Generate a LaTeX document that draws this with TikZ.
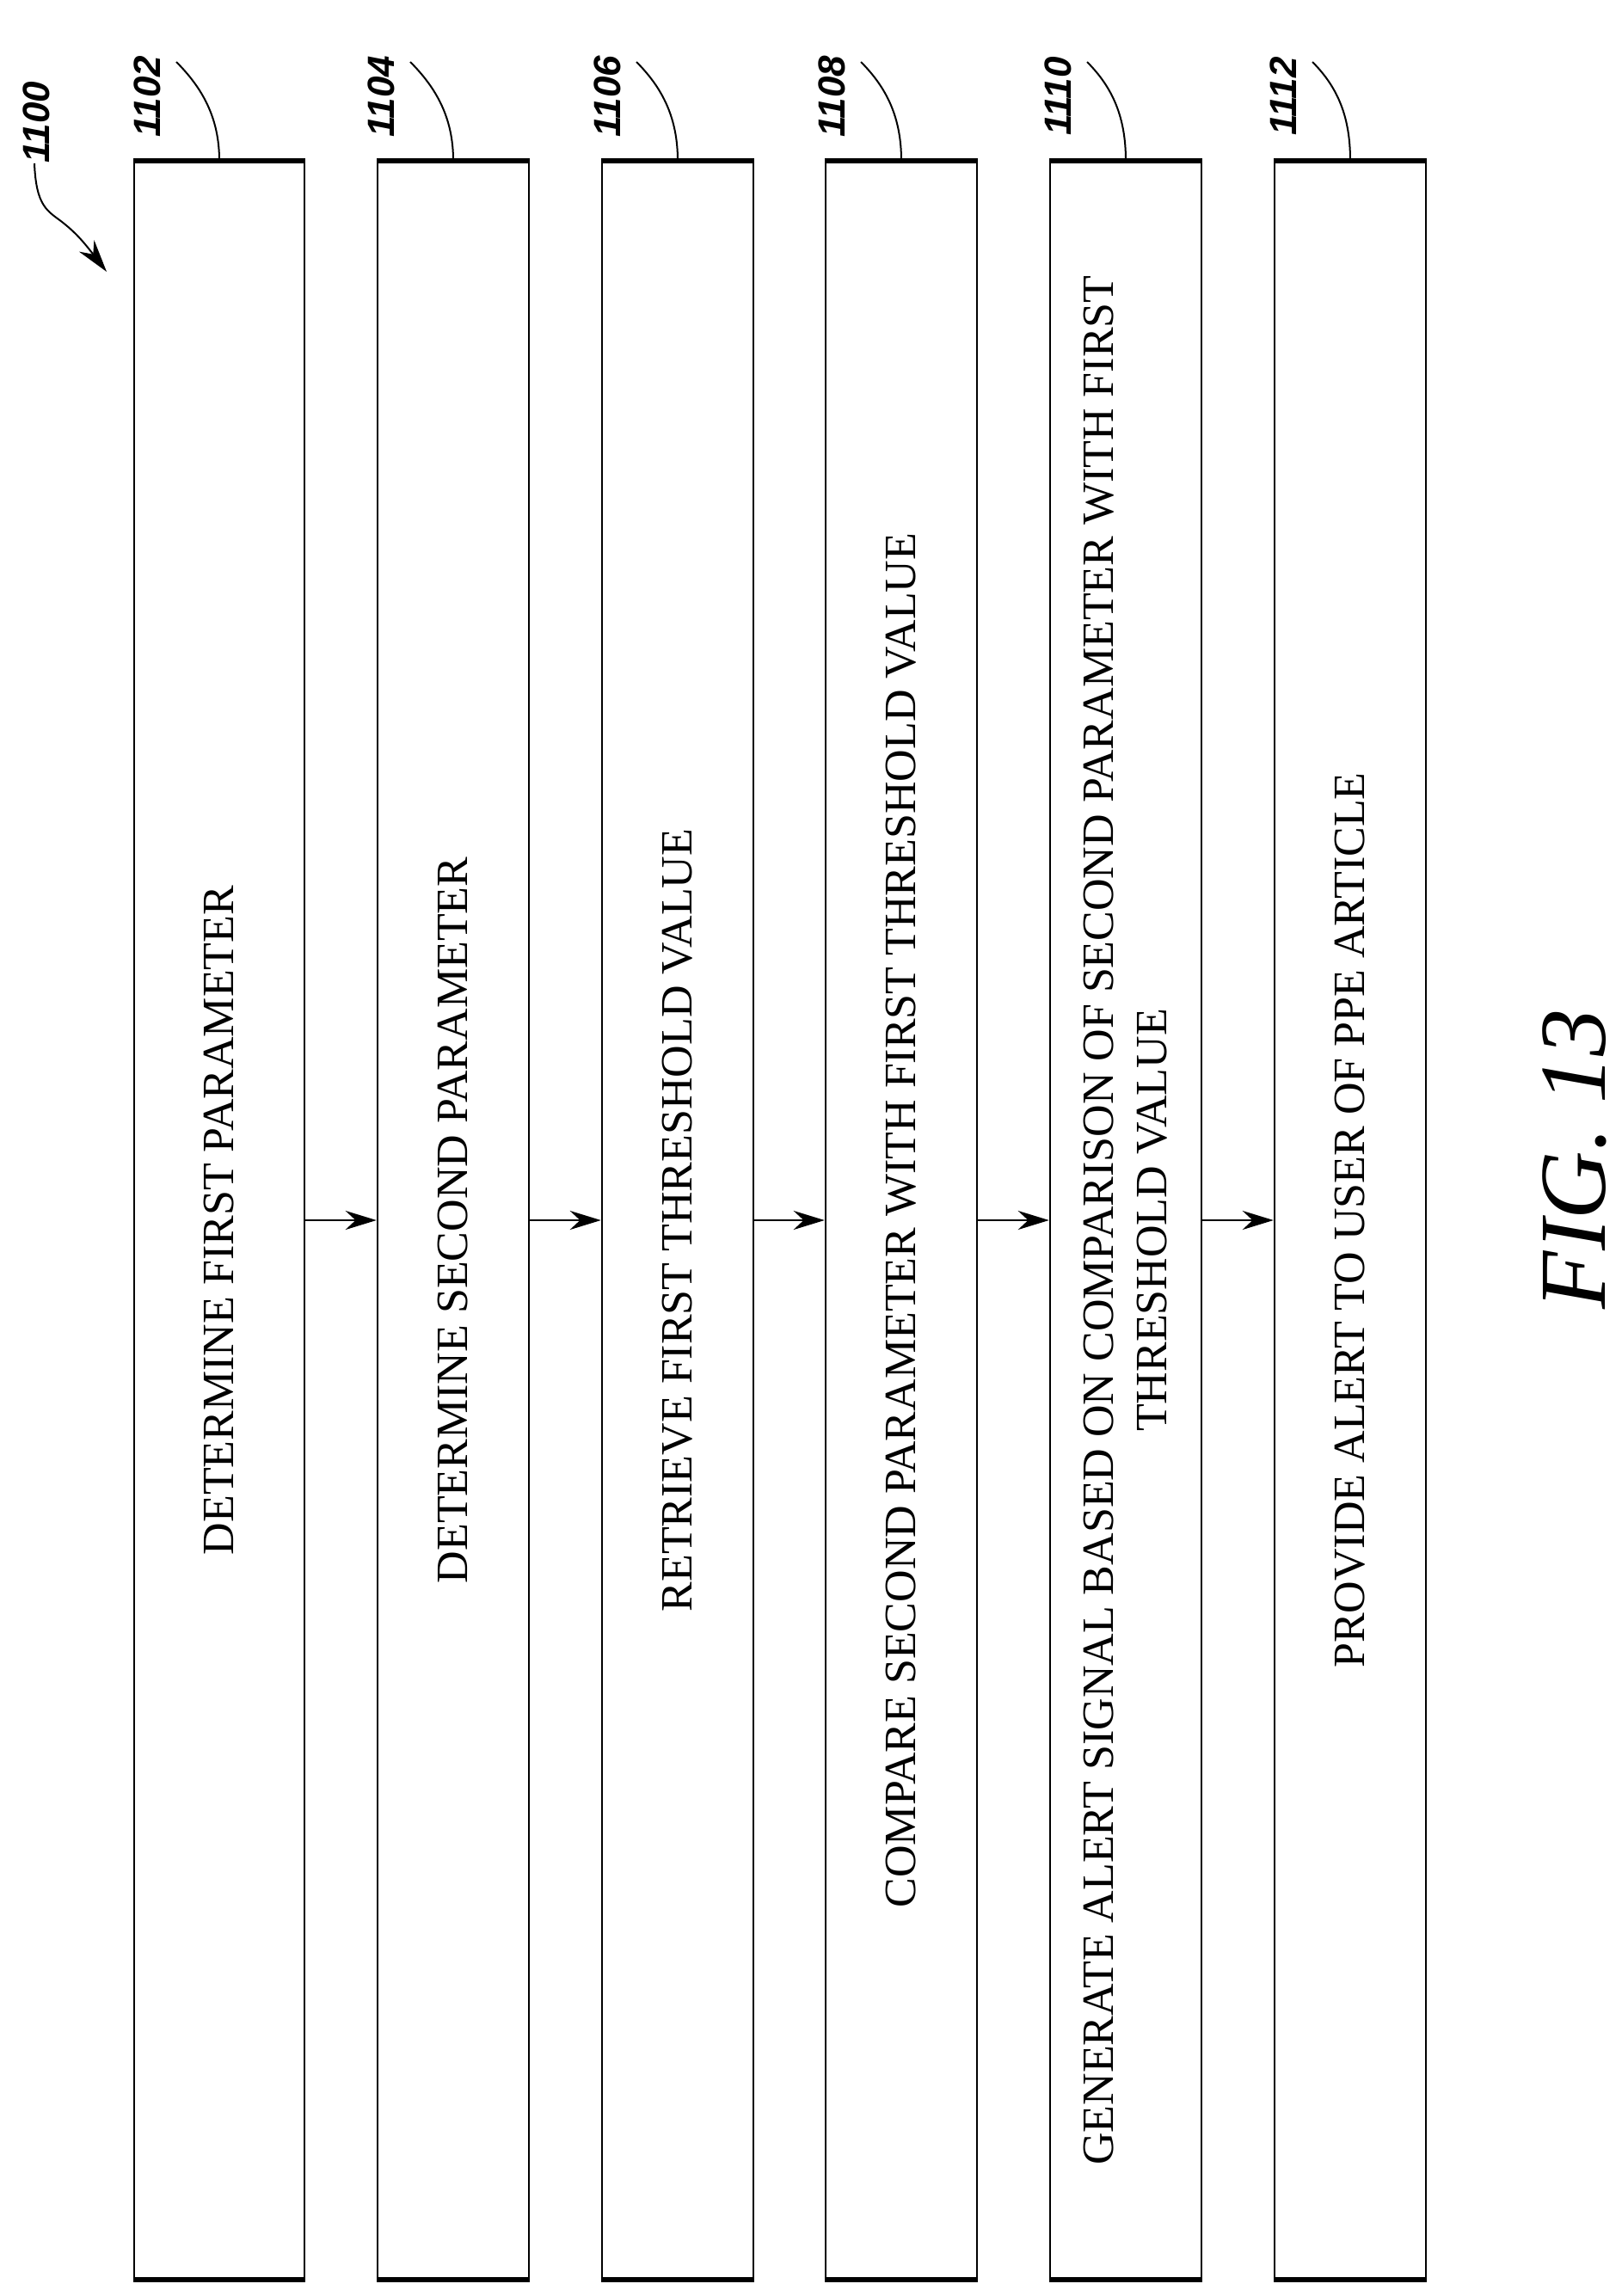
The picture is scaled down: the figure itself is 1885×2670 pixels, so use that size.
\documentclass[tikz,border=0pt]{standalone}
\usepackage{fontspec}
\setmainfont{Liberation Serif}
\newfontfamily\labfont{Liberation Sans}
\usetikzlibrary{arrows.meta,calc}
\begin{document}
\begin{tikzpicture}[x=1pt,y=-1pt,
  stepbox/.style={draw,line width=2.5pt,rotate=90,minimum width=2462pt,minimum height=176pt,inner sep=0pt,align=center,font=\fontsize{52}{62}\selectfont},
  flow/.style={line width=2.5pt,-{Stealth[length=36pt,width=22pt]}},
  refnum/.style={rotate=90,font=\labfont\bfseries\itshape\fontsize{44}{44}\selectfont,inner sep=0pt},
  leader/.style={line width=2pt}]
\useasboundingbox (0,0) rectangle (1885,2670);
\node[stepbox,minimum height=198pt] (b1) at (255,1419) {DETERMINE FIRST PARAMETER};
\node[stepbox] (b2) at (527,1419) {DETERMINE SECOND PARAMETER};
\node[stepbox] (b3) at (788,1419) {RETRIEVE FIRST THRESHOLD VALUE};
\node[stepbox] (b4) at (1048,1419) {COMPARE SECOND PARAMETER WITH FIRST THRESHOLD VALUE};
\node[stepbox] (b5) at (1309,1419) {GENERATE ALERT SIGNAL BASED ON COMPARISON OF SECOND PARAMETER WITH FIRST\\THRESHOLD VALUE};
\node[stepbox] (b6) at (1570,1419) {PROVIDE ALERT TO USER OF PPE ARTICLE};
\foreach \b in {b1,b2,b3,b4,b5,b6}{
  \draw[line width=6pt] (\b.north east) -- (\b.south east);
  \draw[line width=6pt] (\b.north west) -- (\b.south west);
}
\draw[flow] (b1.south) -- (b2.north);
\draw[flow] (b2.south) -- (b3.north);
\draw[flow] (b3.south) -- (b4.north);
\draw[flow] (b4.south) -- (b5.north);
\draw[flow] (b5.south) -- (b6.north);
\foreach \b/\n/\x in {b1/1102/171,b2/1104/443,b3/1106/706,b4/1108/967,b5/1110/1230,b6/1112/1492}{
  \node[refnum] (l\n) at (\x,112) {\n};
  \coordinate (s\n) at (\x+34,72);
  \draw[leader] (s\n) .. controls ($(s\n)+(30,30)$) and ($(\b.east)+(0,-50)$) .. (\b.east);
}
\node[refnum] (l1100) at (42,142) {1100};
\coordinate (a0) at (40,190);
\coordinate (a1) at (124,316);
\draw[leader,-{Stealth[length=38pt,width=22pt]}] (a0) .. controls (42,240) and (55,245) .. (72,258) .. controls (90,272) and (100,285) .. (a1);
\node[rotate=90,font=\itshape\fontsize{110}{110}\selectfont,inner sep=0pt] (fig) at (1831,1348) {FIG. 13};
\end{tikzpicture}
\end{document}
